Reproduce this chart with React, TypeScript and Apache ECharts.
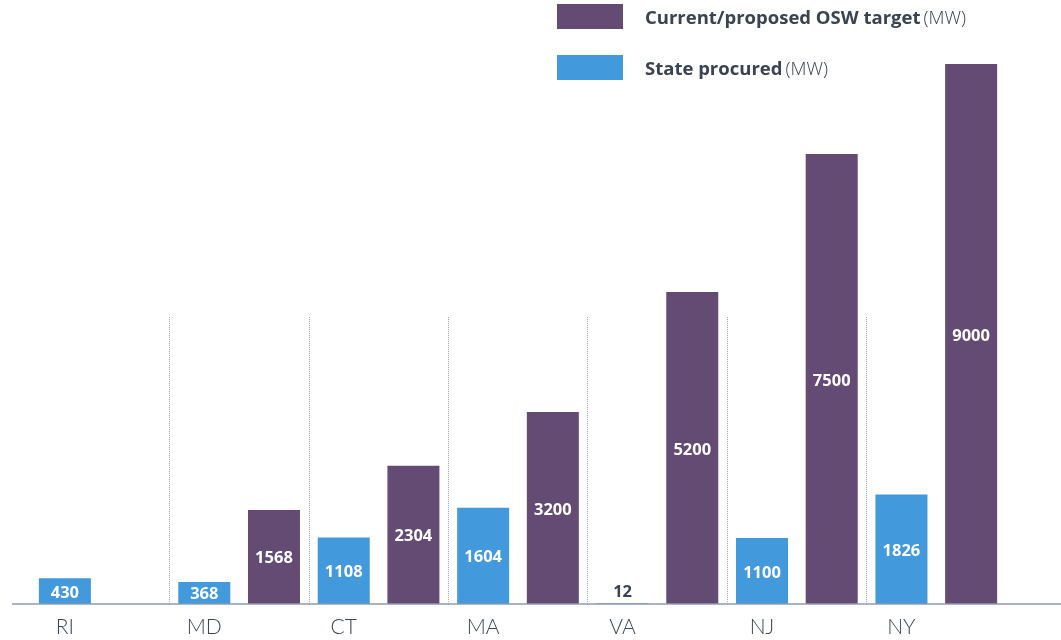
import React, { useEffect, useRef } from "react";
import * as echarts from "echarts";

const states = ["RI", "MD", "CT", "MA", "VA", "NJ", "NY"];
const procured = [430, 368, 1108, 1604, 12, 1100, 1826];
const target: (number | null)[] = [null, 1568, 2304, 3200, 5200, 7500, 9000];
const dividerX = [1, 2, 3, 4, 5, 6];
const dividerTop = 4800;

const PURPLE = "#644b73";
const BLUE = "#4299dc";
const FONT = "Lato";
const LEGEND_FONT = "Open Sans";

export default function App() {
  const ref = useRef<HTMLDivElement>(null);
  useEffect(() => {
    if (!ref.current) return;
    const chart = echarts.init(ref.current, null, { renderer: "svg" });
    const slotLabels = states.flatMap((s) => [s, ""]);
    chart.setOption({
      animation: false,
      textStyle: { fontFamily: FONT },
      grid: { left: 30, right: 55, top: 64, bottom: 36 },
      legend: {
        orient: "vertical",
        left: 557,
        top: 4,
        padding: 0,
        itemWidth: 66,
        itemHeight: 25,
        itemGap: 26,
        icon: "rect",
        data: ["Current/proposed OSW target", "State procured"],
        formatter: (name: string) => `{b|${name}} {l|(MW)}`,
        textStyle: {
          padding: [0, 0, 0, 17],
          rich: {
            b: { fontFamily: LEGEND_FONT, fontWeight: "bold", fontSize: 18.5, color: "#3a4350" },
            l: { fontFamily: LEGEND_FONT, fontWeight: 300, fontSize: 18.5, color: "#3a4350" },
          },
        },
      },
      xAxis: [
        {
          type: "category",
          data: states,
          axisLine: { show: false },
          axisTick: { show: false },
          axisLabel: { show: false },
          splitLine: { show: false },
        },
        {
          type: "category",
          data: slotLabels,
          position: "bottom",
          axisLine: { show: false },
          axisTick: { show: false },
          axisLabel: {
            interval: 0,
            margin: 11,
            fontSize: 21,
            fontWeight: 300,
            color: "#3d4753",
            fontFamily: FONT,
          },
        },
        {
          type: "value",
          min: 0,
          max: states.length,
          show: false,
        },
      ],
      yAxis: {
        type: "value",
        min: 0,
        max: 9000,
        show: false,
        splitLine: { show: false },
      },
      series: [
        {
          name: "State procured",
          type: "bar",
          xAxisIndex: 0,
          barWidth: 52,
          barGap: "34%",
          itemStyle: { color: BLUE },
          label: {
            show: true,
            position: "inside",
            color: "#ffffff",
            fontWeight: "bold",
            fontSize: 16.5,
            fontFamily: LEGEND_FONT,
          },
          data: procured.map((v) =>
            v < 100
              ? { value: v, label: { position: "top", color: "#3a4350", distance: 4 } }
              : v
          ),
        },
        {
          name: "Current/proposed OSW target",
          type: "bar",
          xAxisIndex: 0,
          barWidth: 52,
          itemStyle: { color: PURPLE },
          label: {
            show: true,
            position: "inside",
            color: "#ffffff",
            fontWeight: "bold",
            fontSize: 16.5,
            fontFamily: LEGEND_FONT,
          },
          data: target,
        },
        {
          type: "lines",
          coordinateSystem: "cartesian2d",
          xAxisIndex: 2,
          yAxisIndex: 0,
          silent: true,
          lineStyle: { color: "#9aa5b1", type: "dotted", width: 1, opacity: 1 },
          data: dividerX.map((x) => ({ coords: [[x, 0], [x, dividerTop]] })),
        },
      ],
      graphic: [
        {
          type: "line",
          shape: { x1: 12, y1: 604, x2: 1061, y2: 604 },
          style: { stroke: "#8e9cac", lineWidth: 1.5 },
          z: 10,
        },
      ],
    });
    return () => chart.dispose();
  }, []);
  return <div ref={ref} style={{ width: 1061, height: 640, position: "fixed", left: 0, top: 0 }} />;
}
